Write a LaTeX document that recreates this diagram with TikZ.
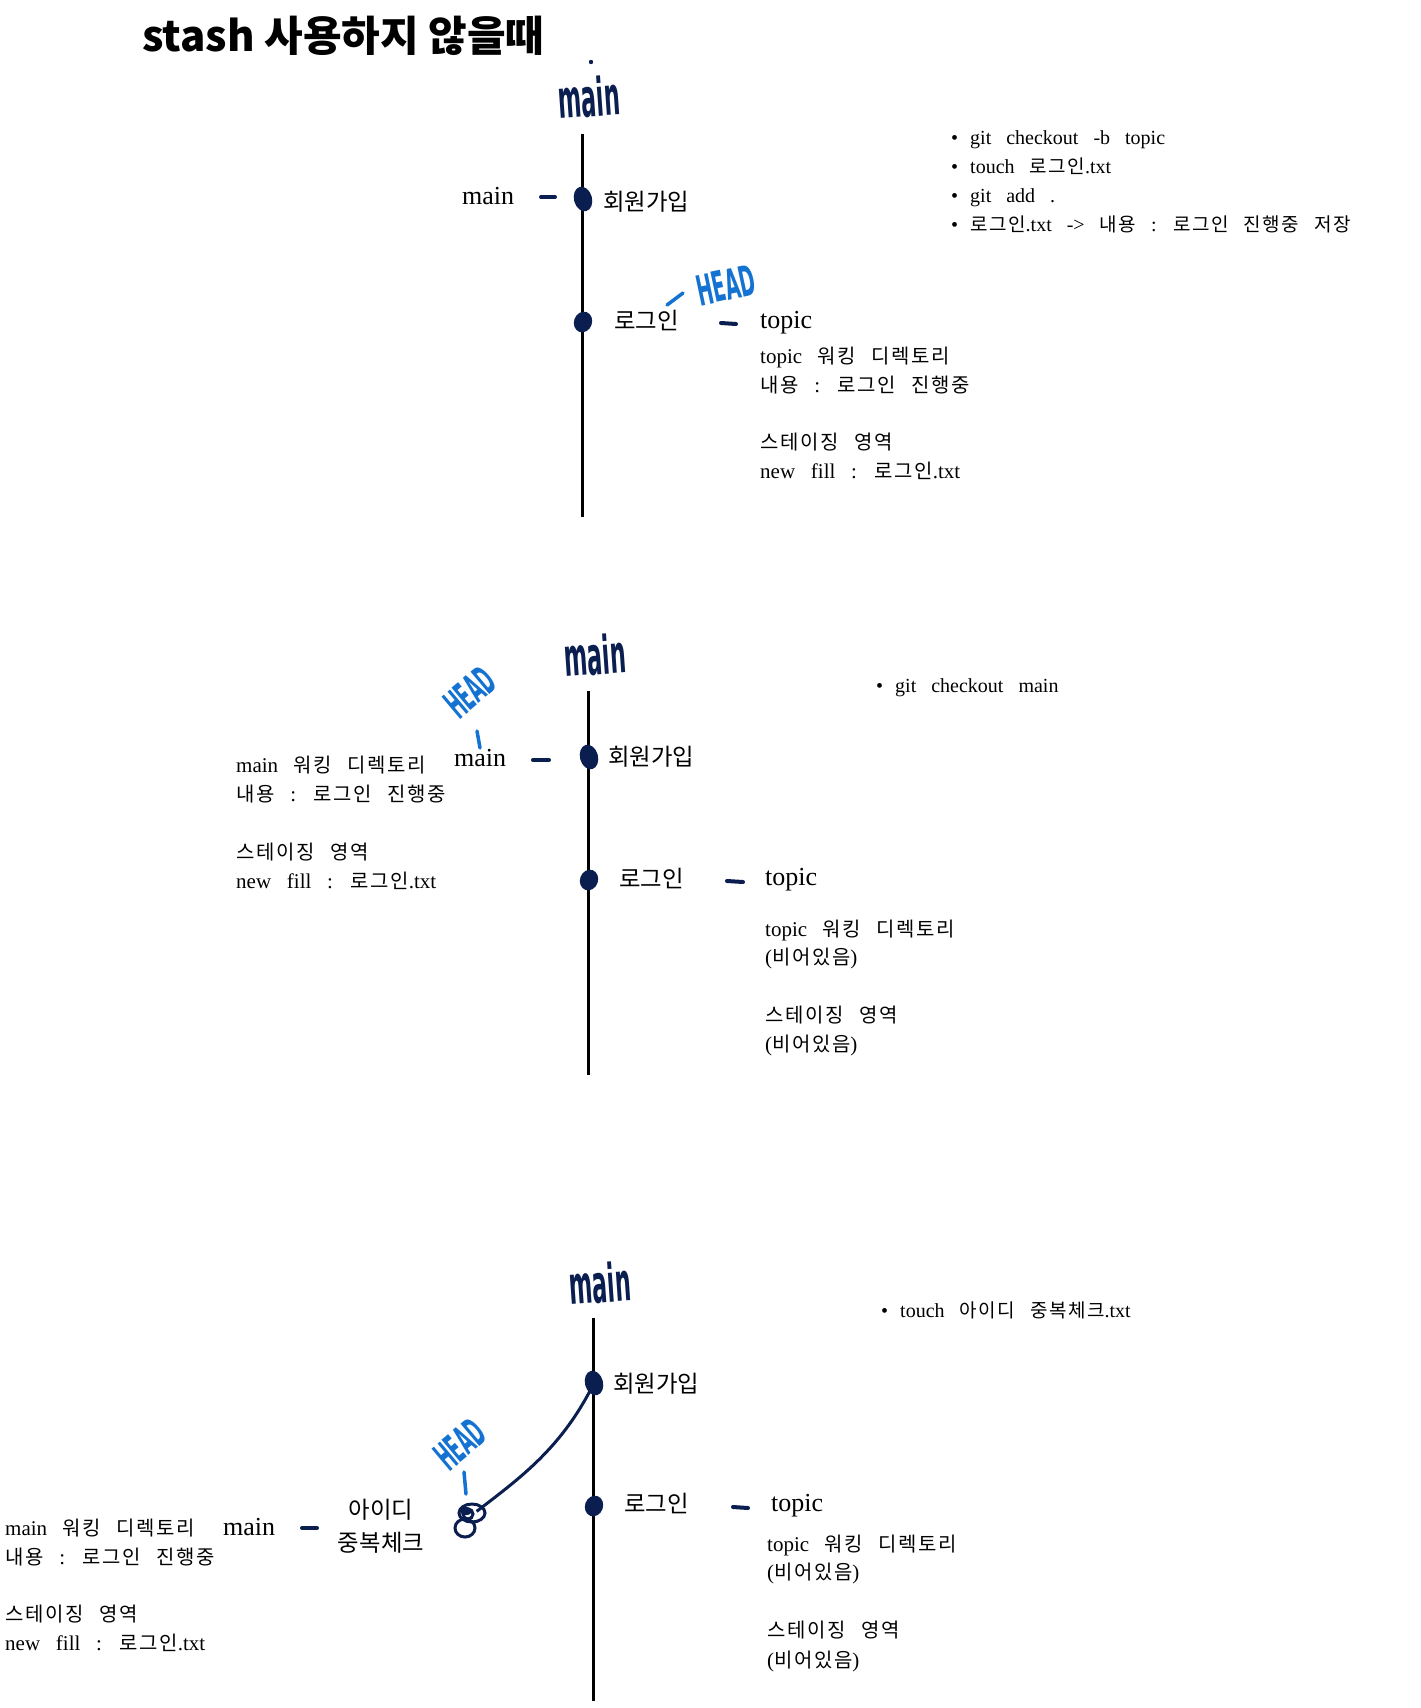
\documentclass[tikz,border=0pt]{standalone}
\usepackage{fontspec}
\usetikzlibrary{shapes.geometric}
\setmainfont{Liberation Serif}[WordSpace=3]
\newfontfamily\kr{Noto Sans CJK KR}[Scale=0.95, LetterSpace=8]
\newfontfamily\krl{Noto Sans CJK KR}[Scale=0.9]
\newfontfamily\krtitle{Noto Sans CJK KR}
\newfontfamily\handfont{DejaVu Sans}
\newcommand\K[1]{{\kr #1}}
\newcommand\KL[1]{{\krl #1}}
\newcommand\bul{\makebox[19pt][l]{\textbullet}}
\definecolor{navy}{HTML}{0A1E50}
\definecolor{headblue}{HTML}{1473D2}
\begin{document}
\begin{tikzpicture}[x=1pt,y=-1pt,
 lbl/.style={anchor=base west, inner sep=0, font=\fontsize{26}{30}\selectfont},
 txt/.style={anchor=base west, inner sep=0, font=\fontsize{21}{28}\selectfont},
 cmd/.style={anchor=base west, inner sep=0, font=\fontsize{20}{28}\selectfont},
 handlbl/.style={inner sep=0, text=navy, font=\handfont\bfseries\fontsize{28}{30}\selectfont},
 headlbl/.style={inner sep=0, text=headblue, font=\handfont\bfseries\fontsize{20}{22}\selectfont},
 trunk/.style={line width=3pt, black},
 commit/.style={ellipse, fill=navy, inner sep=0, minimum width=18pt, minimum height=25pt},
 ptr/.style={navy, line width=4pt, line cap=round},
 headtick/.style={headblue, line width=3.5pt, line cap=round},
 branch/.style={navy, line width=3pt},
]
\useasboundingbox (0,0) rectangle (1421,1708);
\fill[white] (0,0) rectangle (1421,1708);

% title
\node[anchor=base west, inner sep=0, font=\krtitle\bfseries\fontsize{42}{46}\selectfont] (title) at (142,51) {stash 사용하지 않을때};

% ================= section 1 =================
\node[handlbl, rotate=4, xscale=0.8, yscale=1.9] (hm1) at (589,97) {main};
\fill[navy] (591,62) circle (2.2);
\coordinate (t1top) at (582,134);
\coordinate (t1bot) at (582,517);
\draw[trunk] (t1top) -- (t1bot);
\node[commit, rotate=15] (c1a) at (583,199) {};
\node[commit, rotate=-20, minimum height=21pt] (c1b) at (583,322) {};
\node[lbl] (m1) at (462,204) {main};
\draw[ptr] (541,197) -- (555,197);
\node[lbl] (j1) at (603,210) {\KL{회원가입}};
\node[lbl] (l1) at (614,329) {\KL{로그인}};
\draw[ptr] (721,323) -- (736,324);
\node[lbl] (tp1) at (760,328) {topic};
\node[headlbl, rotate=12, xscale=0.95, yscale=2.1] (hd1) at (726,285) {HEAD};
\draw[headtick] (667,305) -- (683,293);

\node[txt] (w1a) at (760,363) {topic \K{워킹} \K{디렉토리}};
\node[txt] (w1b) at (760,392) {\K{내용} : \K{로그인} \K{진행중}};
\node[txt] (w1c) at (760,449) {\K{스테이징} \K{영역}};
\node[txt] (w1d) at (760,478) {new fill : \K{로그인}.txt};

\node[cmd] (b1a) at (951,144) {\bul git checkout -b topic};
\node[cmd] (b1b) at (951,173) {\bul touch \K{로그인}.txt};
\node[cmd] (b1c) at (951,202) {\bul git add .};
\node[cmd] (b1d) at (951,231) {\bul \K{로그인}.txt -> \K{내용} : \K{로그인} \K{진행중} \K{저장}};

% ================= section 2 =================
\node[handlbl, rotate=4, xscale=0.8, yscale=1.9] (hm2) at (595,655) {main};
\coordinate (t2top) at (588,691);
\coordinate (t2bot) at (588,1075);
\draw[trunk] (t2top) -- (t2bot);
\node[commit, rotate=15] (c2a) at (589,757) {};
\node[commit, rotate=-20, minimum height=21pt] (c2b) at (589,880) {};
\node[lbl] (m2) at (454,766) {main};
\draw[ptr] (533,760) -- (549,760);
\node[lbl] (j2) at (608,765) {\KL{회원가입}};
\node[lbl] (l2) at (619,887) {\KL{로그인}};
\draw[ptr] (727,881) -- (743,882);
\node[lbl] (tp2) at (765,885) {topic};
\node[headlbl, rotate=40, xscale=0.85, yscale=2.0] (hd2) at (470,692) {HEAD};
\draw[headtick] (477,731) -- (480,748);

\node[txt] (w2a) at (236,772) {main \K{워킹} \K{디렉토리}};
\node[txt] (w2b) at (236,801) {\K{내용} : \K{로그인} \K{진행중}};
\node[txt] (w2c) at (236,859) {\K{스테이징} \K{영역}};
\node[txt] (w2d) at (236,888) {new fill : \K{로그인}.txt};

\node[txt] (v2a) at (765,936) {topic \K{워킹} \K{디렉토리}};
\node[txt] (v2b) at (765,964) {(\K{비어있음})};
\node[txt] (v2c) at (765,1022) {\K{스테이징} \K{영역}};
\node[txt] (v2d) at (765,1051) {(\K{비어있음})};

\node[cmd] (b2a) at (876,692) {\bul git checkout main};

% ================= section 3 =================
\node[handlbl, rotate=4, xscale=0.8, yscale=1.9] (hm3) at (600,1283) {main};
\coordinate (t3top) at (593,1318);
\coordinate (t3bot) at (593,1701);
\draw[trunk] (t3top) -- (t3bot);
\node[commit, rotate=15] (c3a) at (594,1383) {};
\node[commit, rotate=-20, minimum height=21pt] (c3b) at (594,1506) {};
\node[lbl] (j3) at (613,1392) {\KL{회원가입}};
\node[lbl] (l3) at (624,1512) {\KL{로그인}};
\draw[ptr] (733,1507) -- (748,1508);
\node[lbl] (tp3) at (771,1511) {topic};

% new commit (scribbled)
\node[circle, inner sep=0, minimum size=24pt] (c3n) at (468,1520) {};
\draw[branch] (472,1513) ellipse [x radius=13, y radius=9];
\draw[branch] (465,1528) ellipse [x radius=10, y radius=9];
\draw[branch] (468,1514) circle (5);
\fill[navy] (466,1511) ellipse [x radius=6, y radius=4];
\draw[branch] (c3n.north east) .. controls (520,1478) and (562,1448) .. (c3a.center);

\node[headlbl, rotate=40, xscale=0.85, yscale=2.0] (hd3) at (460,1444) {HEAD};
\draw[headtick] (464,1472) -- (466,1494);

\node[lbl, anchor=base] (id3a) at (381,1518) {\KL{아이디}};
\node[lbl, anchor=base] (id3b) at (381,1551) {\KL{중복체크}};
\node[lbl] (m3) at (223,1535) {main};
\draw[ptr] (302,1528) -- (317,1528);

\node[txt] (w3a) at (5,1535) {main \K{워킹} \K{디렉토리}};
\node[txt] (w3b) at (5,1564) {\K{내용} : \K{로그인} \K{진행중}};
\node[txt] (w3c) at (5,1621) {\K{스테이징} \K{영역}};
\node[txt] (w3d) at (5,1650) {new fill : \K{로그인}.txt};

\node[txt] (v3a) at (767,1551) {topic \K{워킹} \K{디렉토리}};
\node[txt] (v3b) at (767,1579) {(\K{비어있음})};
\node[txt] (v3c) at (767,1637) {\K{스테이징} \K{영역}};
\node[txt] (v3d) at (767,1667) {(\K{비어있음})};

\node[cmd] (b3a) at (881,1317) {\bul touch \K{아이디} \K{중복체크}.txt};
\end{tikzpicture}
\end{document}
